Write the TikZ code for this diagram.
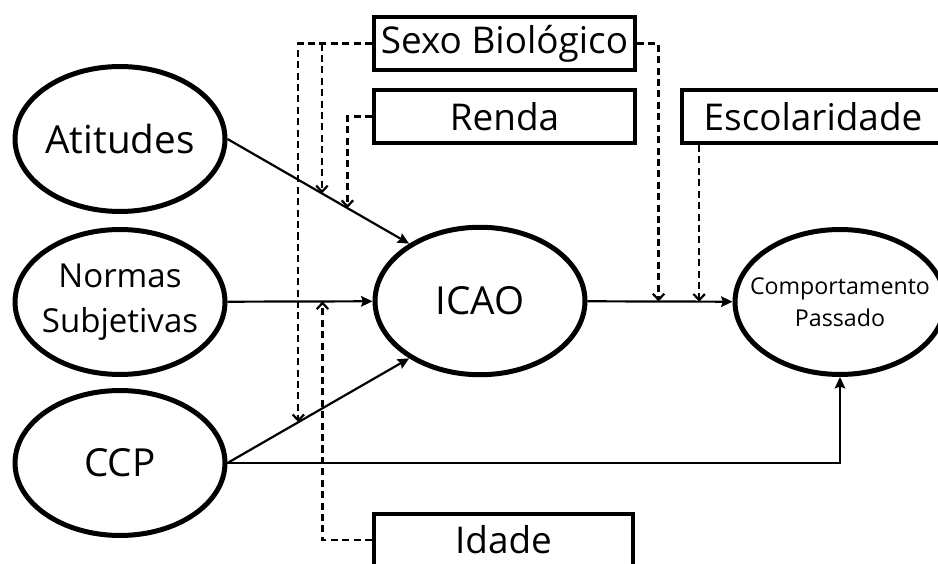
\documentclass[tikz,border=0pt]{standalone}
\usepackage{fontspec}
\setmainfont{Open Sans}
\usetikzlibrary{shapes}
\usetikzlibrary{arrows.meta}
\usetikzlibrary{calc}
\tikzset{
	latent/.style={ellipse,draw,line width=0.1cm,inner sep=0pt,
		minimum width=4.2cm,minimum height=2.9cm},
	lbl/.style={align=center,inner sep=0pt,font=\fontsize{22}{26}\selectfont},
	ctrl/.style={rectangle,draw,line width=0.08cm,inner sep=0pt,
		minimum width=5.22cm,minimum height=1.06cm,font=\fontsize{21}{25}\selectfont},
	modline/.style={line width=1.25pt,dash pattern=on 4pt off 2.5pt,
		>={Straight Barb[length=3.5pt,width=6.5pt]}}
}

\begin{document}
\begin{tikzpicture}[->,>={Stealth[length=6.5pt,width=6pt,inset=1pt]},line width=1.25pt,x=0.02cm,y=-0.02cm]
	    \clip (0,0) rectangle (938,564);

	    \node[latent,label={[lbl]center:Atitudes}] (atit) at (120,139) {};
	    \node[latent,label={[lbl,font=\fontsize{18.8}{25.6}\selectfont]center:Normas\\Subjetivas}] (norm) at (120,302) {};
	    \node[latent,label={[lbl]center:CCP}] (ccp) at (120,463) {};
	    \node[latent,minimum height=2.95cm,label={[lbl]center:ICAO}] (icao) at (480,301) {};
	    \node[latent,label={[lbl,font=\fontsize{13.2}{18}\selectfont]center:Comportamento\\Passado}] (comp) at (840,302) {};

	    \node[ctrl] (sexo) at (504.5,43.5) {Sexo Biológico};
	    \node[ctrl] (renda) at (504.5,116.5) {Renda};
	    \node[ctrl,minimum width=5.24cm] (esco) at (813,116.5) {Escolaridade};
	    \node[ctrl,minimum width=5.18cm] (idade) at (503.5,540) {Idade};

	    \path
	      (atit.east) edge (icao.141)
	      (norm) edge (icao)
	      (ccp.east) edge (icao.219)
	      (icao) edge (comp);
	    \draw (ccp.east) -| (comp.south);

	    % pontos de moderacao
	    \coordinate (a1) at ($(atit.east)!0.52!(icao.141)$);
	    \coordinate (a2) at ($(atit.east)!0.66!(icao.141)$);
	    \coordinate (c1) at ($(ccp.east)!0.39!(icao.219)$);
	    \coordinate (n1) at ($(norm.east)!0.655!(icao.west)$);
	    \coordinate (i1) at ($(icao.east)!0.49!(comp.west)$);
	    \coordinate (e1) at ($(icao.east)!0.77!(comp.west)$);

	    \draw[modline] (sexo.west) -| (c1);
	    \draw[modline] (a1 |- sexo.west) -- (a1);
	    \draw[modline] (renda.west) -| (a2);
	    \draw[modline] (sexo.east) -| (i1);
	    \draw[modline] (e1 |- esco.south) -- (e1);
	    \draw[modline] (idade.west) -| (n1);
\end{tikzpicture}
\end{document}
